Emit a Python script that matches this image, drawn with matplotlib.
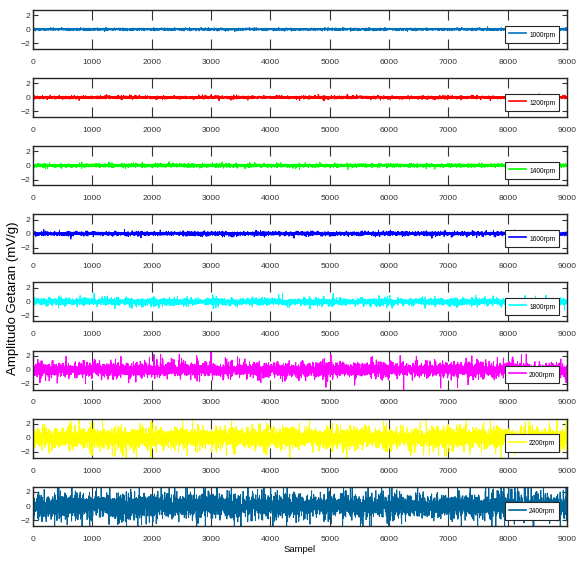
import numpy as np
import matplotlib.pyplot as plt

# vibration signals, 9000 samples per speed
n_samples = 9000
rpm_labels = ["1000rpm", "1200rpm", "1400rpm", "1600rpm", "1800rpm", "2000rpm", "2200rpm", "2400rpm"]
colors = ["#0072BD", "#FF0000", "#00FF00", "#0000FF", "#00FFFF", "#FF00FF", "#FFFF00", "#00639A"]
# spread of each signal (mV/g), laplace scale
signal_scale = [0.045, 0.06, 0.07, 0.08, 0.14, 0.3, 0.42, 0.52]
x_ticks = [0, 1000, 2000, 3000, 4000, 5000, 6000, 7000, 8000, 9000]
y_ticks = [-2, 0, 2]

plt.rcParams['font.family'] = ['Liberation Sans', 'DejaVu Sans']

rng = np.random.default_rng(7)
samples = np.arange(1, n_samples + 1)

fig = plt.figure(figsize=(5.77, 5.63), dpi=100)
W, H = 577, 563
left, right = 33, 567
top0, step, h = 10, 68.1, 39

for i in range(8):
    top = top0 + step * i
    ax = fig.add_axes([left / W, (H - top - h) / H, (right - left) / W, h / H])
    y = rng.laplace(0, signal_scale[i], n_samples)
    ax.plot(samples, y, color=colors[i], lw=0.7, label=rpm_labels[i])
    ax.set_xlim(0, 9000)
    ax.set_ylim(-2.8, 2.75)
    ax.set_xticks(x_ticks)
    ax.set_yticks(y_ticks)
    ax.tick_params(axis='x', direction='in', length=7, width=0.8, top=True,
                   labelsize=6.1, pad=7.2, colors='#333333')
    ax.tick_params(axis='y', direction='in', length=3.5, width=0.8, right=True,
                   labelsize=6.1, pad=2.2, colors='#333333')
    for sp in ax.spines.values():
        sp.set_linewidth(1.0)
        sp.set_color('#262626')
    leg = ax.legend(loc='lower right', bbox_to_anchor=(0.985, 0.154),
                    borderaxespad=0, fontsize=4.8, fancybox=False,
                    handlelength=2.6, handleheight=1.9, handletextpad=0.45,
                    borderpad=0.55, framealpha=1)
    leg.get_frame().set_edgecolor('#262626')
    leg.get_frame().set_linewidth(0.8)
    for ln in leg.get_lines():
        ln.set_linewidth(1.2)

fig.text(300 / W, 1 - 550 / H, "Sampel", ha='center', va='center', fontsize=6.8)
fig.text(13 / W, 1 - 298 / H, "Amplitudo Getaran (mV/g)", ha='center', va='center',
         rotation=90, fontsize=9.5)

fig.savefig("out.png", dpi=100)
